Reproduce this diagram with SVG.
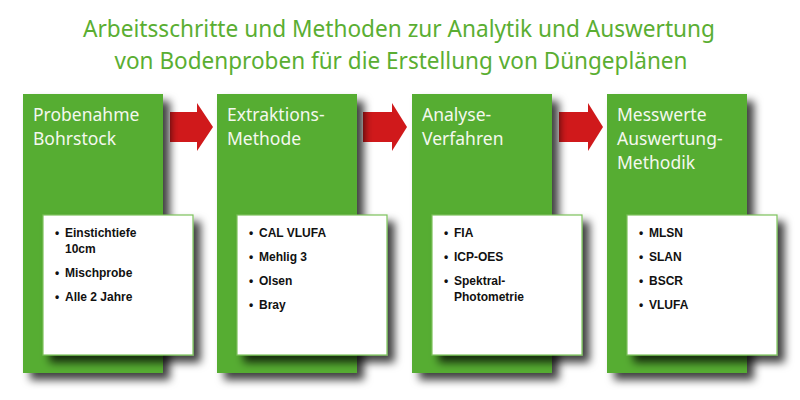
<svg xmlns="http://www.w3.org/2000/svg" width="800" height="400" viewBox="0 0 800 400">
<defs>
<filter id="sh" x="-20%" y="-20%" width="150%" height="150%">
<feDropShadow dx="7" dy="7" stdDeviation="4" flood-color="#000" flood-opacity="0.75"/>
</filter>
<style>
.title{font-family:"Noto Sans","Open Sans",sans-serif;font-size:23.5px;fill:#5aae32;text-anchor:middle}
.green{fill:#57ad33;filter:url(#sh)}
.white{fill:#fff;stroke:#7cc15a;stroke-width:1.2;filter:url(#sh)}
.head{font-family:"Noto Sans","Open Sans",sans-serif;font-size:17.5px;fill:#f4f8ee}
.item{font-family:"Liberation Sans",Arial,sans-serif;font-size:12px;font-weight:bold;fill:#111}
.arrow{fill:#d0191b}
</style>
</defs>
<rect width="800" height="400" fill="#fff"/>
<text class="title" x="399" y="37" textLength="632" lengthAdjust="spacingAndGlyphs">Arbeitsschritte und Methoden zur Analytik und Auswertung</text>
<text class="title" x="401" y="69" textLength="573" lengthAdjust="spacingAndGlyphs">von Bodenproben für die Erstellung von Düngeplänen</text>
<g id="connectors">
<polygon class="arrow" points="170,112 197,112 197,103 213,127 197,151 197,142 170,142"/>
<polygon class="arrow" points="363,112 392,112 392,103 407,127 392,151 392,142 363,142"/>
<polygon class="arrow" points="559,112 588,112 588,103 603,127 588,151 588,142 559,142"/>
</g>
<g id="node1">
<rect class="green" x="23" y="94" width="140" height="279"/>
<text class="head" x="33" y="121">Probenahme</text>
<text class="head" x="33" y="145">Bohrstock</text>
<rect class="white" x="43" y="215" width="150" height="140"/>
<text class="item" x="55" y="237">•</text><text class="item" x="65" y="237">Einstichtiefe</text>
<text class="item" x="65" y="253">10cm</text>
<text class="item" x="55" y="277">•</text><text class="item" x="65" y="277">Mischprobe</text>
<text class="item" x="55" y="301">•</text><text class="item" x="65" y="301">Alle 2 Jahre</text>
</g>
<g id="node2">
<rect class="green" x="217" y="94" width="140" height="279"/>
<text class="head" x="227" y="121">Extraktions-</text>
<text class="head" x="227" y="145">Methode</text>
<rect class="white" x="237" y="215" width="150" height="140"/>
<text class="item" x="249" y="237">•</text><text class="item" x="259" y="237">CAL VLUFA</text>
<text class="item" x="249" y="261">•</text><text class="item" x="259" y="261">Mehlig 3</text>
<text class="item" x="249" y="285">•</text><text class="item" x="259" y="285">Olsen</text>
<text class="item" x="249" y="309">•</text><text class="item" x="259" y="309">Bray</text>
</g>
<g id="node3">
<rect class="green" x="412" y="94" width="140" height="279"/>
<text class="head" x="422" y="121">Analyse-</text>
<text class="head" x="422" y="145">Verfahren</text>
<rect class="white" x="432" y="215" width="150" height="140"/>
<text class="item" x="444" y="237">•</text><text class="item" x="454" y="237">FIA</text>
<text class="item" x="444" y="261">•</text><text class="item" x="454" y="261">ICP-OES</text>
<text class="item" x="444" y="285">•</text><text class="item" x="454" y="285">Spektral-</text>
<text class="item" x="454" y="301">Photometrie</text>
</g>
<g id="node4">
<rect class="green" x="607" y="94" width="140" height="279"/>
<text class="head" x="617" y="121">Messwerte</text>
<text class="head" x="617" y="145">Auswertung-</text>
<text class="head" x="617" y="169">Methodik</text>
<rect class="white" x="627" y="215" width="150" height="140"/>
<text class="item" x="639" y="237">•</text><text class="item" x="649" y="237">MLSN</text>
<text class="item" x="639" y="261">•</text><text class="item" x="649" y="261">SLAN</text>
<text class="item" x="639" y="285">•</text><text class="item" x="649" y="285">BSCR</text>
<text class="item" x="639" y="309">•</text><text class="item" x="649" y="309">VLUFA</text>
</g>
</svg>
